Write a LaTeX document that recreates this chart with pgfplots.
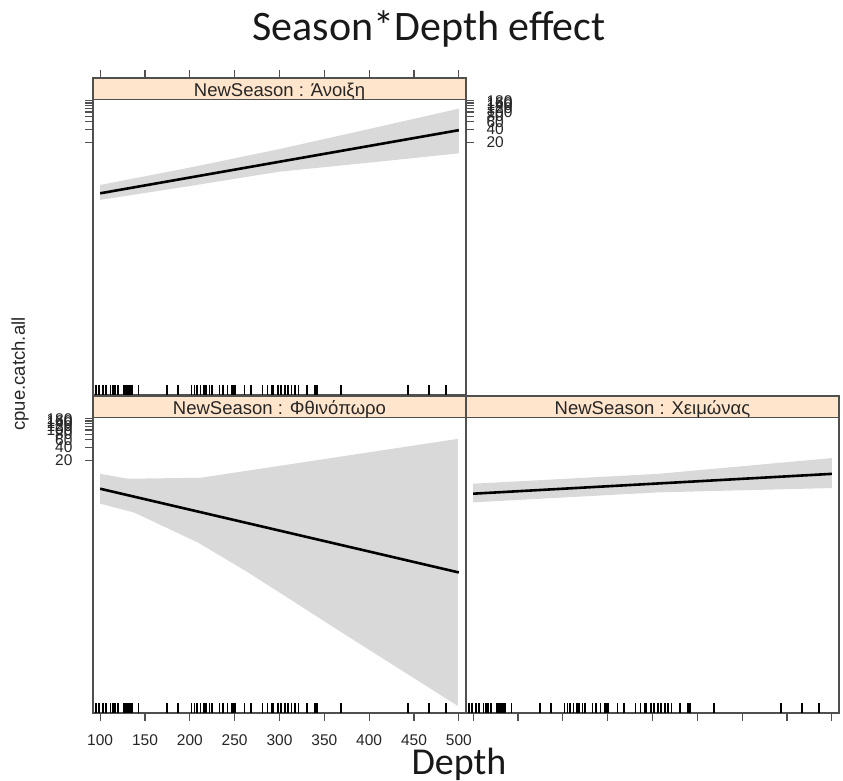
\documentclass[border=0pt]{standalone}
\usepackage{pgfplots}
\pgfplotsset{compat=1.18}
\usepackage{pgfplotstable}
\usepackage{fontspec}
\setmainfont{Liberation Sans}
\newfontfamily\titlefont{Carlito}

\definecolor{stripbg}{HTML}{FFE5CC}
\definecolor{bandgray}{HTML}{D9D9D9}
\definecolor{framecol}{HTML}{505050}
\definecolor{labelcol}{HTML}{262626}

% observed depths (rug along the bottom of every panel); second column is the rug's height
\pgfplotstableread{
depth level
95.5 4.59e-5
99 4.59e-5
103 4.59e-5
106.7 4.59e-5
111.5 4.59e-5
114 4.59e-5
116.7 4.59e-5
119.7 4.59e-5
126.4 4.59e-5
128.6 4.59e-5
130.8 4.59e-5
133 4.59e-5
135.3 4.59e-5
142.7 4.59e-5
174.7 4.59e-5
186.5 4.59e-5
202 4.59e-5
205 4.59e-5
208 4.59e-5
211.8 4.59e-5
215.5 4.59e-5
218 4.59e-5
221.8 4.59e-5
224.4 4.59e-5
233 4.59e-5
236.7 4.59e-5
242.2 4.59e-5
246.7 4.59e-5
249 4.59e-5
250.4 4.59e-5
260.8 4.59e-5
268.2 4.59e-5
281.2 4.59e-5
286.8 4.59e-5
291.3 4.59e-5
293.5 4.59e-5
298 4.59e-5
301.7 4.59e-5
306 4.59e-5
309.8 4.59e-5
313.6 4.59e-5
317.3 4.59e-5
321 4.59e-5
330.6 4.59e-5
339.6 4.59e-5
341.8 4.59e-5
368.5 4.59e-5
443.5 4.59e-5
467 4.59e-5
485.5 4.59e-5
}\rugdata

\pgfplotsset{
  effpanel/.style={
    scale only axis,
    width=373pt, height=317pt,
    xmin=92, xmax=508,
    ymin=3.53e-5, ymax=595.7,
    xtick={100,150,...,500},
    xticklabels={100,150,200,250,300,350,400,450,500},
    ytick={20,40,60,80,100,120,140,160,180},
    yticklabels={20,40,60,80,100,120,140,160,180},
    minor tick num=0,
    tick align=outside,
    major tick length=8pt,
    major tick style={line width=1.1pt, color=framecol},
    axis line style={line width=1.1pt, color=framecol},
    ticklabel style={font=\fontsize{15.5}{15.5}\selectfont, text=labelcol},
    xticklabel shift=10pt,
    yticklabel shift=9pt,
    clip=false,
  },
}
\tikzset{
  ciband/.style={fill=bandgray, draw=none},
  fitline/.style={black, line width=2.6pt},
  rugmarks/.style={only marks, mark=|, mark size=5pt, black, line width=1.6pt},
}

% draws the panel strip with its label above the data region
\newcommand{\panelstrip}[1]{%
  \draw[fill=stripbg, draw=framecol, line width=1.1pt]
    (axis cs:92,188.4) rectangle (rel axis cs:1,1);
  \node[anchor=base, font=\fontsize{18.5}{18.5}\selectfont, text=labelcol]
    at ([yshift=3pt]axis cs:300,188.4) {NewSeason : #1};
}

\begin{document}
\begin{tikzpicture}
\useasboundingbox (0pt,0pt) rectangle (843pt,780pt);

% spring
\begin{semilogyaxis}[effpanel, at={(93pt,385pt)}, anchor=south west,
  xtick pos=right, xticklabels={},
  yticklabel pos=right]
  \addplot[ciband] coordinates {(100,2.17) (200,5.4) (300,14.3) (400,41) (500,119)
    (500,11.4) (400,7.0) (300,4.36) (200,2.05) (100,0.99)};
  \addplot[fitline] coordinates {(100,1.40) (500,38.5)};
  \addplot[rugmarks] table[x=depth, y=level] {\rugdata};
  \panelstrip{Άνοιξη}
\end{semilogyaxis}

% autumn
\begin{semilogyaxis}[effpanel, at={(93pt,67pt)}, anchor=south west,
  xtick pos=left, ytick pos=left]
  \addplot[ciband] coordinates {(100,10.0) (131,7.74) (212,8.15) (499,62.8)
    (499,5.09e-5) (376,0.00199) (265,0.0565) (209,0.272) (138,1.31) (100,2.09)};
  \addplot[fitline] coordinates {(100,4.58) (500,0.0565)};
  \addplot[rugmarks] table[x=depth, y=level] {\rugdata};
  \panelstrip{Φθινόπωρο}
\end{semilogyaxis}

% winter
\begin{semilogyaxis}[effpanel, at={(466pt,67pt)}, anchor=south west,
  xtick pos=left, xticklabels={}, ytick=\empty]
  \addplot[ciband] coordinates {(100,5.96) (306,10.0) (500,22.9)
    (500,4.75) (306,3.78) (100,2.24)};
  \addplot[fitline] coordinates {(100,3.53) (500,10.0)};
  \addplot[rugmarks] table[x=depth, y=level] {\rugdata};
  \panelstrip{Χειμώνας}
\end{semilogyaxis}

\node[rotate=90, font=\fontsize{18.5}{18.5}\selectfont, text=labelcol]
  at (20pt,406pt) {cpue.catch.all};
\node[anchor=base, font=\titlefont\fontsize{42}{42}\selectfont, text=black!90]
  at (429pt,739pt) {Season*Depth effect};
\node[anchor=base, font=\titlefont\fontsize{38}{38}\selectfont, text=black!90]
  at (459pt,6pt) {Depth};
\end{tikzpicture}
\end{document}
